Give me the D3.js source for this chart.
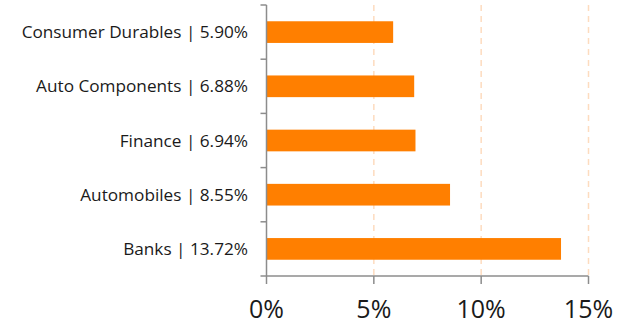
<!DOCTYPE html>
<html><head><meta charset="utf-8">
<script src="https://cdn.jsdelivr.net/npm/d3@7"></script>
<style>html,body{margin:0;padding:0;background:#fff;}svg{display:block;}</style>
</head><body>
<svg id="chart" width="620" height="322"></svg>
<script>
const categories = ["Consumer Durables", "Auto Components", "Finance", "Automobiles", "Banks"];
const values = [5.90, 6.88, 6.94, 8.55, 13.72];
const xTicks = [0, 5, 10, 15];

(function () {
const svg = d3.select("#chart");
const mLeft = 266.5, mRight = 588.5, mTop = 5, mBottom = 276;
const font = "'Open Sans', sans-serif";

const x = d3.scaleLinear().domain([0, 15]).range([mLeft, mRight]);
const yb = d3.scaleBand().domain(categories).range([mTop, mBottom]).paddingInner(0.6).paddingOuter(0.3);
const yEdge = d3.scaleLinear().domain([0, categories.length]).range([mTop, mBottom]);

// gridlines
svg.append("g").selectAll("line").data(xTicks.filter(d => d > 0)).join("line")
  .attr("x1", d => x(d)).attr("x2", d => x(d))
  .attr("y1", mTop).attr("y2", mBottom)
  .attr("stroke", "#fddcbf").attr("stroke-width", 1.5).attr("stroke-dasharray", "6,5");

// bars
svg.append("g").selectAll("rect").data(categories).join("rect")
  .attr("x", x(0)).attr("y", d => yb(d))
  .attr("width", (d, i) => x(values[i]) - x(0))
  .attr("height", yb.bandwidth())
  .attr("fill", "#ff7f00");

// y axis line and ticks between categories
const axisColor = "#8c8c8c";
svg.append("line").attr("x1", mLeft).attr("x2", mLeft).attr("y1", mTop).attr("y2", mBottom)
  .attr("stroke", axisColor).attr("stroke-width", 1.5);
svg.append("g").selectAll("line").data(d3.range(categories.length + 1)).join("line")
  .attr("x1", mLeft - 6).attr("x2", mLeft)
  .attr("y1", d => yEdge(d)).attr("y2", d => yEdge(d))
  .attr("stroke", axisColor).attr("stroke-width", 1.5);

// x axis
svg.append("line").attr("x1", mLeft).attr("x2", mRight).attr("y1", mBottom).attr("y2", mBottom)
  .attr("stroke", axisColor).attr("stroke-width", 1.5);
svg.append("g").selectAll("line").data(xTicks).join("line")
  .attr("x1", d => x(d)).attr("x2", d => x(d))
  .attr("y1", mBottom).attr("y2", mBottom + 8)
  .attr("stroke", axisColor).attr("stroke-width", 1.5);
svg.append("g").selectAll("text").data(xTicks).join("text")
  .attr("x", d => x(d)).attr("y", 318)
  .attr("text-anchor", "middle")
  .attr("font-family", font).attr("font-size", 25).attr("fill", "#1a1a1a")
  .text(d => d + "%");

// category labels
svg.append("g").selectAll("text").data(categories).join("text")
  .attr("x", 248).attr("y", d => yb(d) + yb.bandwidth() / 2)
  .attr("dy", "0.35em")
  .attr("text-anchor", "end")
  .attr("font-family", font).attr("font-size", 17.2).attr("fill", "#1a1a1a")
  .text((d, i) => d + " | " + values[i].toFixed(2) + "%");
})();
</script>
</body></html>
